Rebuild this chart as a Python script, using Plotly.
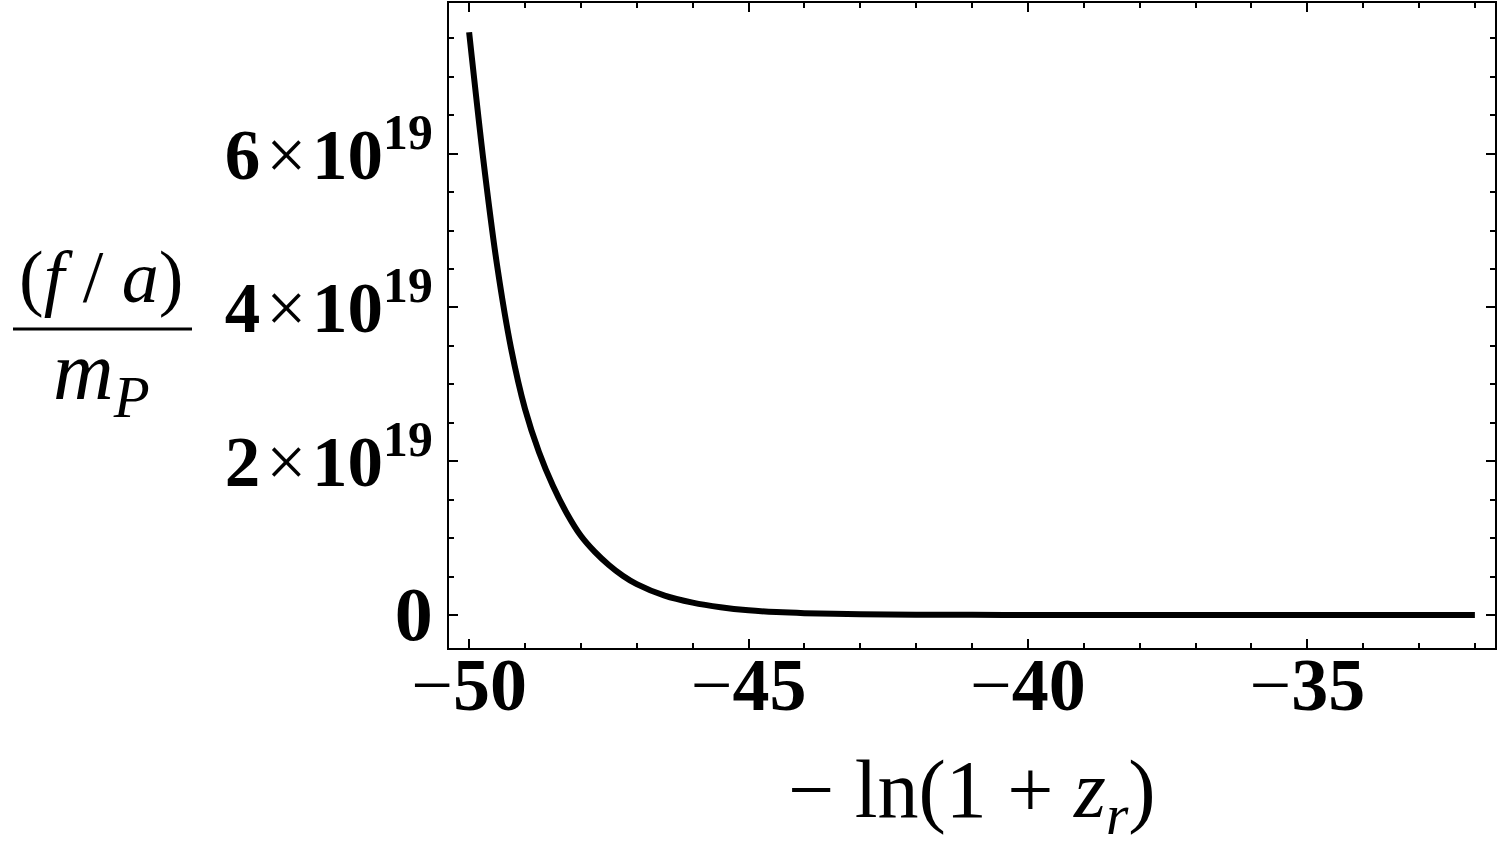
import plotly.graph_objects as go

# data (x = -ln(1+z_r), y = (f/a)/m_P)
x_vals = [-50, -49.75, -49.5, -49.25, -49, -48.75, -48.5, -48.25, -48, -47.75, -47.5,
          -47.25, -47, -46.5, -46, -45.5, -45, -44.5, -44, -43, -42, -41, -40, -38,
          -36, -34, -32]
y_vals_e19 = [7.58, 5.95, 4.55, 3.47, 2.68, 2.12, 1.68, 1.32, 1.03, 0.82, 0.65,
              0.51, 0.40, 0.25, 0.16, 0.10, 0.060, 0.037, 0.023, 0.009, 0.0035, 0.0013,
              0.0005, 0.0001, 0.0, 0.0, 0.0]
y_vals = [v * 1e19 for v in y_vals_e19]

x_tick_vals = [-50, -45, -40, -35]
x_tick_text = ["<span style='font-weight:normal'>−</span><b>50</b>",
               "<span style='font-weight:normal'>−</span><b>45</b>",
               "<span style='font-weight:normal'>−</span><b>40</b>",
               "<span style='font-weight:normal'>−</span><b>35</b>"]
y_tick_vals = [0, 2e19, 4e19, 6e19]
y_tick_text = ["<span style='font-size:76px'><b>0</b></span>",
               "<b>2</b>\u200a×\u200a<b>10<sup>19</sup></b>",
               "<b>4</b>\u200a×\u200a<b>10<sup>19</sup></b>",
               "<b>6</b>\u200a×\u200a<b>10<sup>19</sup></b>"]

FONT = "Liberation Serif"

fig = go.Figure()
fig.add_trace(go.Scatter(x=x_vals, y=y_vals, mode="lines",
                         line=dict(color="black", width=6, shape="spline", smoothing=0.8),
                         hoverinfo="skip", showlegend=False))

axis_common = dict(showline=True, linecolor="black", linewidth=2, mirror="allticks",
                   ticks="inside", tickcolor="black", tickwidth=2, showgrid=False,
                   zeroline=False)

fig.update_xaxes(range=[-50.36, -31.64], tickvals=x_tick_vals, ticktext=x_tick_text,
                 ticklen=9, tickfont=dict(family=FONT, size=74, color="black"),
                 ticklabelstandoff=-29,
                 minor=dict(dtick=1, tick0=-50, ticks="inside", ticklen=5,
                            tickwidth=2, tickcolor="black", showgrid=False),
                 **axis_common)
fig.update_yaxes(range=[-0.43e19, 7.96e19], tickvals=y_tick_vals, ticktext=y_tick_text,
                 ticklen=9, tickfont=dict(family=FONT, size=71, color="black"),
                 minor=dict(dtick=0.5e19, tick0=0, ticks="inside", ticklen=5,
                            tickwidth=2, tickcolor="black", showgrid=False),
                 **axis_common)

W, H = 1500, 850
L, R, T, B = 449, 5, 1, 202
pw, ph = W - L - R, H - T - B

def px_to_paper(px, py):
    return (px - L) / pw, (H - B - py) / ph

ax, ay = px_to_paper(972, 795)
fig.add_annotation(x=ax, y=ay, xref="paper", yref="paper", showarrow=False,
                   text="− ln(1 + <i>z</i><sub><i>r</i></sub>)",
                   font=dict(family=FONT, size=82, color="black"),
                   xanchor="center", yanchor="middle")

nx, ny = px_to_paper(101, 276)
fig.add_annotation(x=nx, y=ny, xref="paper", yref="paper", showarrow=False,
                   text="(<i>f</i> / <i>a</i>)",
                   font=dict(family=FONT, size=74, color="black"),
                   xanchor="center", yanchor="middle")
dx, dy = px_to_paper(101, 376)
fig.add_annotation(x=dx, y=dy, xref="paper", yref="paper", showarrow=False,
                   text="<i>m</i><sub><i>P</i></sub>",
                   font=dict(family=FONT, size=84, color="black"),
                   xanchor="center", yanchor="middle")
x0, ly = px_to_paper(13, 328)
x1, _ = px_to_paper(192, 328)
fig.add_shape(type="line", xref="paper", yref="paper", x0=x0, x1=x1, y0=ly, y1=ly,
              line=dict(color="black", width=3))

fig.update_layout(width=W, height=H, margin=dict(l=L, r=R, t=T, b=B),
                  paper_bgcolor="white", plot_bgcolor="white")

fig.write_html("out.html")
